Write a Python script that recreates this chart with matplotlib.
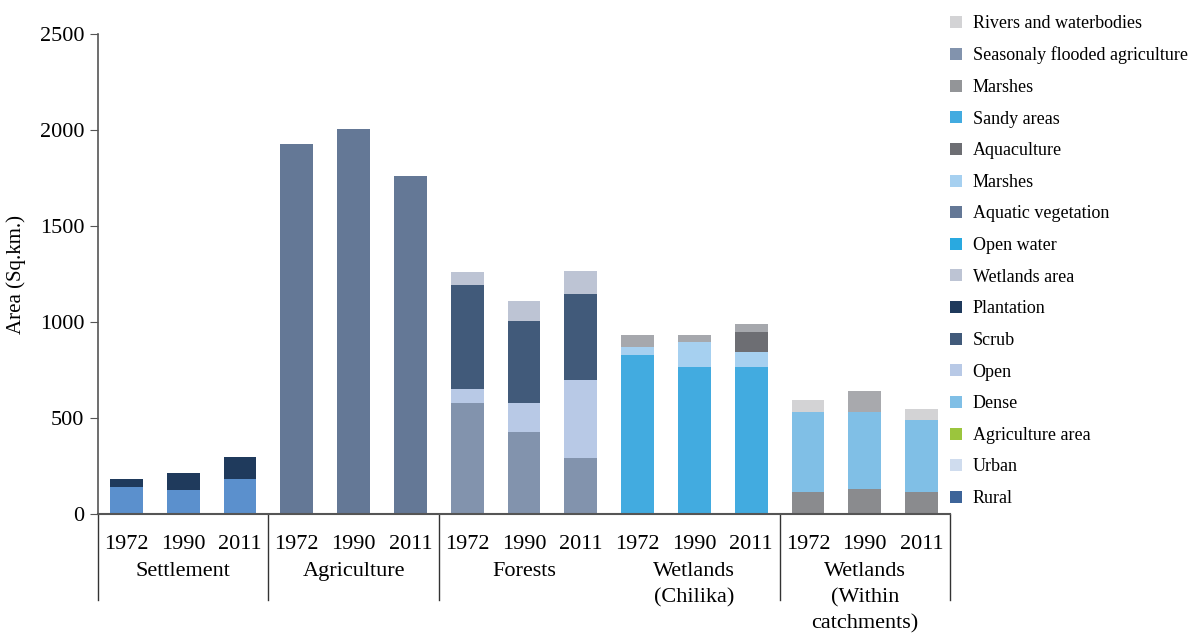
import matplotlib
matplotlib.use("agg")
import matplotlib.pyplot as plt
from matplotlib.lines import Line2D
import numpy as np

plt.rcParams['font.family'] = ['Liberation Serif', 'DejaVu Serif']

years = ['1972', '1990', '2011']
groups = ['Settlement', 'Agriculture', 'Forests', 'Wetlands\n(Chilika)', 'Wetlands\n(Within\ncatchments)']

# segment heights per group, bottom to top (Sq.km.)
settlement_rural = [140, 125, 182]
settlement_upper = [42, 88, 115]
agriculture = [1927, 2005, 1760]
forest_seasonal = [578, 427, 292]
forest_open = [73, 151, 406]
forest_scrub = [542, 427, 448]
forest_wetland = [67, 104, 120]
chilika_open_water = [828, 766, 766]
chilika_marsh = [42, 130, 78]
chilika_aquaculture = [0, 0, 104]
chilika_top = [62, 36, 42]
catch_marsh = [115, 130, 115]
catch_dense = [416, 401, 375]
catch_top = [63, 110, 57]

legend_labels = ['Rivers and waterbodies', 'Seasonaly flooded agriculture', 'Marshes', 'Sandy areas',
                 'Aquaculture', 'Marshes', 'Aquatic vegetation', 'Open water', 'Wetlands area',
                 'Plantation', 'Scrub', 'Open', 'Dense', 'Agriculture area', 'Urban', 'Rural']
legend_colors = ['#d3d3d5', '#8293ad', '#939598', '#42abe0', '#6d6e73', '#a6d0f0', '#647896',
                 '#29a9e0', '#bdc4d4', '#1f3a5c', '#415a7a', '#b8c9e6', '#80bfe6', '#9bc53d',
                 '#cfdcee', '#3d6499']

# (group index, list of (values, color or per-bar colors))
stacks = [
    (0, [(settlement_rural, '#5b90cd'), (settlement_upper, '#1f3a5c')]),
    (1, [(agriculture, '#647896')]),
    (2, [(forest_seasonal, '#8293ad'), (forest_open, '#b8c9e6'),
         (forest_scrub, '#415a7a'), (forest_wetland, '#bdc4d4')]),
    (3, [(chilika_open_water, '#42abe0'), (chilika_marsh, '#a6d0f0'),
         (chilika_aquaculture, '#6d6e73'), (chilika_top, '#a6a8ad')]),
    (4, [(catch_marsh, '#8a8b8e'), (catch_dense, '#80bfe6'),
         (catch_top, ['#d3d3d5', '#a8a9ad', '#d3d3d5'])]),
]

fig = plt.figure(figsize=(11.97, 6.34), dpi=100)
ax = fig.add_axes([98 / 1197, 1 - 514 / 634, 852 / 1197, 480 / 634])

width = 0.58
for g, layers in stacks:
    x = np.arange(3) + 3 * g
    bottom = np.zeros(3)
    for vals, col in layers:
        ax.bar(x, vals, width, bottom=bottom, color=col, linewidth=0)
        bottom += np.array(vals)

ax.set_xlim(-0.5, 14.5)
ax.set_ylim(0, 2500)
ax.set_yticks(np.arange(0, 2501, 500))
ax.tick_params(axis='y', labelsize=16, length=6, color='#555555', pad=4)
ax.set_xticks(np.arange(15))
ax.set_xticklabels(years * 5, fontsize=16)
ax.tick_params(axis='x', length=0, pad=15)
ax.spines['top'].set_visible(False)
ax.spines['right'].set_visible(False)
ax.spines['left'].set_color('#555555')
ax.spines['bottom'].set_color('#555555')
ax.spines['left'].set_linewidth(1.2)
ax.spines['bottom'].set_linewidth(1.5)
ax.set_ylabel('Area (Sq.km.)', fontsize=15, labelpad=10)

trans = ax.get_xaxis_transform()
for g, name in enumerate(groups):
    ax.text(3 * g + 1, -0.1, name, transform=trans, ha='center', va='top',
            fontsize=16, linespacing=1.5)
for xs in [-0.5, 2.5, 5.5, 11.5, 14.5]:
    ax.plot([xs, xs], [0, -0.18], transform=trans, color='#333333', lw=1, clip_on=False)

handles = [Line2D([], [], marker='s', linestyle='none', markersize=8.5,
                  markerfacecolor=c, markeredgewidth=0) for c in legend_colors]
fig.legend(handles, legend_labels, loc='upper left', bbox_to_anchor=(0.787, 0.988),
           frameon=False, fontsize=13, labelspacing=0.81, handlelength=0.8,
           handletextpad=0.5, borderaxespad=0)

plt.savefig('out.png', dpi=100)
